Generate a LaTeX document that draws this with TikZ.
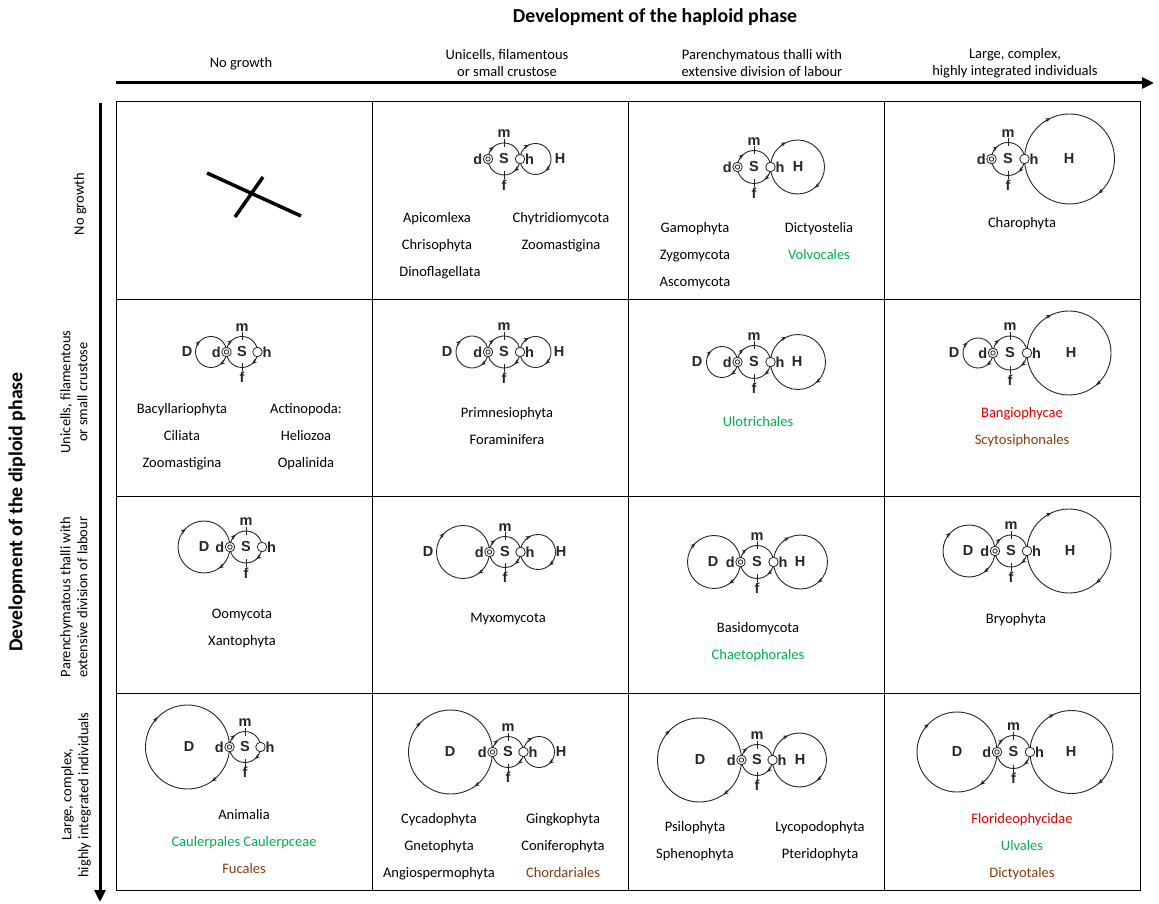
\documentclass[tikz,border=0pt]{standalone}
\usepackage{fontspec}
\setmainfont{Carlito}
\newfontfamily\glyphfont{Liberation Sans}
\usetikzlibrary{arrows.meta}
\definecolor{tgreen}{HTML}{00B050}
\definecolor{tred}{HTML}{E00000}
\definecolor{tbrown}{HTML}{843C0C}
\tikzset{
  cyc/.style={draw=black!85, line width=0.9pt},
  tip/.style={cyc, -{Stealth[length=5pt,width=4pt]}},
  glab/.style={font=\glyphfont\bfseries\fontsize{14.5}{15}\selectfont, inner sep=0pt, text=black!85},
  taxon/.style={font=\fontsize{14.5}{16}\selectfont, inner sep=0pt},
  hdr/.style={font=\fontsize{14.5}{17}\selectfont, align=center, inner sep=0pt},
  ttl/.style={font=\bfseries\fontsize{19.8}{22}\selectfont, inner sep=0pt},
  bull/.style={circle, draw=black!85, line width=0.8pt, fill=white, minimum size=9.5pt, inner sep=0pt,
    path picture={\draw[line width=0.8pt] (path picture bounding box.center) circle[radius=2.2pt];}},
  hcirc/.style={circle, draw=black!85, line width=0.8pt, fill=white, minimum size=9.5pt, inner sep=0pt},
  grid/.style={draw=black, line width=0.9pt},
  axis/.style={line width=3pt, -{Triangle[length=12pt,width=11pt]}},
}
% clockwise arrow tip on a circle: centre x, centre y, radius, angle
\newcommand\cwtip[4]{%
  \draw[tip] ({#1+#3*cos(#4+344/#3)},{#2+#3*sin(#4+344/#3)}) arc[start angle={#4+344/#3}, end angle=#4, radius=#3];}
% S cycle: name, x, y(from top), radius
\newcommand\Scyc[4]{%
  \draw[cyc] (#2,{903-#3}) circle[radius=#4];
  \cwtip{#2}{903-#3}{#4}{130}
  \cwtip{#2}{903-#3}{#4}{-50}
  \draw[cyc] (#2,{903-#3+#4-4}) -- (#2,{903-#3+#4+4});
  \draw[cyc] (#2,{903-#3-#4-4}) -- (#2,{903-#3-#4+4});
  \node[glab] (#1-S) at (#2,{903-#3}) {S};
  \node[glab] (#1-m) at (#2,{903-#3+#4+9}) {m};
  \node[glab] (#1-f) at (#2,{903-#3-#4-10}) {f};
  \node[bull] (#1-d) at ({#2-#4},{903-#3}) {};
  \node[hcirc] (#1-h) at ({#2+#4},{903-#3}) {};
  \node[glab, anchor=east] (#1-dl) at ({#2-#4-5.5},{903-#3}) {d};
  \node[glab, anchor=west] (#1-hl) at ({#2+#4+5},{903-#3}) {h};
}
% H cycle: name, tangent x, y, radius, label x
\newcommand\Hcyc[5]{%
  \draw[cyc] ({#2+#4},{903-#3}) circle[radius=#4];
  \cwtip{#2+#4}{903-#3}{#4}{115}
  \cwtip{#2+#4}{903-#3}{#4}{-50}
  \node[glab] (#1-H) at (#5,{903-#3}) {H};
}
% D cycle: name, tangent x, y, radius, label x
\newcommand\Dcyc[5]{%
  \draw[cyc] ({#2-#4},{903-#3}) circle[radius=#4];
  \cwtip{#2-#4}{903-#3}{#4}{135}
  \cwtip{#2-#4}{903-#3}{#4}{-55}
  \node[glab] (#1-D) at (#5,{903-#3}) {D};
}
% taxon text: name, x, y(center from top), colour, text
\newcommand\tx[5]{\node[taxon, text=#4, anchor=base] (#1) at (#2,{903-#3-4.5}) {#5};}

\begin{document}
\begin{tikzpicture}[x=1pt,y=1pt]
\useasboundingbox (0,0) rectangle (1159,903);
\fill[white] (0,0) rectangle (1159,903);

% titles
\node[ttl] (title) at (655,{903-17}) {Development of the haploid phase};
\node[ttl, rotate=90] (ltitle) at (17,{903-512}) {Development of the diploid phase};

% axes
\coordinate (ha0) at (116,{903-83});
\coordinate (ha1) at (1154,{903-83});
\draw[axis] (ha0) -- (ha1);
\coordinate (va0) at (100,{903-103});
\coordinate (va1) at (100,{903-902});
\draw[axis] (va0) -- (va1);

% column headers
\node[hdr] (h1) at (241,{903-64}) {No growth};
\node[hdr] (h2) at (507,{903-63.5}) {Unicells, filamentous\\or small crustose};
\node[hdr] (h3) at (762,{903-63.5}) {Parenchymatous thalli with\\extensive division of labour};
\node[hdr] (h4) at (1015,{903-63.5}) {Large, complex,\\highly integrated individuals};

% row headers
\node[hdr, rotate=90] (v1) at (80,{903-204}) {No growth};
\node[hdr, rotate=90] (v2) at (74,{903-392}) {Unicells, filamentous\\or small crustose};
\node[hdr, rotate=90] (v3) at (74,{903-597}) {Parenchymatous thalli with\\extensive division of labour};
\node[hdr, rotate=90] (v4) at (76,{903-795}) {Large, complex,\\highly integrated individuals};

% grid
\draw[grid] (116,{903-101}) rectangle (1140,{903-890});
\foreach \gx in {372,628,884} \draw[grid] (\gx,{903-101}) -- (\gx,{903-890});
\foreach \gy in {299,496,693} \draw[grid] (116,{903-\gy}) -- (1140,{903-\gy});

% cell r1c1: cross
\coordinate (x1a) at (207,{903-173}); \coordinate (x1b) at (301,{903-216});
\coordinate (x2a) at (263,{903-177}); \coordinate (x2b) at (235,{903-217});
\draw[line width=3.5pt] (x1a) -- (x1b);
\draw[line width=3.5pt] (x2a) -- (x2b);

% r1c2
\Hcyc{a12}{520}{159}{15.5}{560}
\Scyc{a12}{504}{159}{16}
\tx{t1}{437}{218}{black}{Apicomlexa}
\tx{t2}{437}{245}{black}{Chrisophyta}
\tx{t3}{440}{272}{black}{Dinoflagellata}
\tx{t4}{561}{218}{black}{Chytridiomycota}
\tx{t5}{561}{245}{black}{Zoomastigina}

% r1c3
\Hcyc{a13}{770.5}{167}{27}{798}
\Scyc{a13}{754}{167}{16.5}
\tx{t6}{695}{228}{black}{Gamophyta}
\tx{t7}{695}{255}{black}{Zygomycota}
\tx{t8}{695}{282}{black}{Ascomycota}
\tx{t9}{819}{228}{black}{Dictyostelia}
\tx{t10}{819}{255}{tgreen}{Volvocales}

% r1c4
\Hcyc{a14}{1024.5}{159}{45}{1069}
\Scyc{a14}{1008}{159}{16.5}
\tx{t11}{1022}{223}{black}{Charophyta}

% r2c1
\Dcyc{a21}{226.5}{352}{15.5}{187}
\Scyc{a21}{242}{352}{15.5}
\tx{t12}{182}{409}{black}{Bacyllariophyta}
\tx{t13}{182}{436}{black}{Ciliata}
\tx{t14}{182}{463}{black}{Zoomastigina}
\tx{t15}{306}{409}{black}{Actinopoda:}
\tx{t16}{306}{436}{black}{Heliozoa}
\tx{t17}{306}{463}{black}{Opalinida}

% r2c2
\Dcyc{a22}{488}{352}{16}{447}
\Hcyc{a22}{520}{352}{15.5}{559}
\Scyc{a22}{504}{352}{16}
\tx{t18}{507}{413}{black}{Primnesiophyta}
\tx{t19}{507}{440}{black}{Foraminifera}

% r2c3
\Dcyc{a23}{737.5}{362}{15.5}{697}
\Hcyc{a23}{770.5}{362}{27.5}{797}
\Scyc{a23}{754}{362}{16.5}
\tx{t20}{758}{422}{tgreen}{Ulotrichales}

% r2c4
\Dcyc{a24}{993}{353}{15}{954}
\Hcyc{a24}{1027}{353}{42}{1071}
\Scyc{a24}{1010}{353}{17}
\tx{t21}{1022}{413}{tred}{Bangiophycae}
\tx{t22}{1022}{440}{tbrown}{Scytosiphonales}

% r3c1
\Dcyc{a31}{230}{547}{26}{204}
\Scyc{a31}{246}{547}{16}
\tx{t23}{242}{614}{black}{Oomycota}
\tx{t24}{242}{641}{black}{Xantophyta}

% r3c2
\Dcyc{a32}{489.5}{552}{26.5}{428}
\Hcyc{a32}{520.5}{552}{17.5}{561}
\Scyc{a32}{505}{552}{15.5}
\tx{t25}{508}{618}{black}{Myxomycota}

% r3c3
\Dcyc{a33}{740.5}{562}{26.5}{713}
\Hcyc{a33}{773.5}{562}{27}{800}
\Scyc{a33}{757}{562}{16.5}
\tx{t26}{758}{628}{black}{Basidomycota}
\tx{t27}{758}{655}{tgreen}{Chaetophorales}

% r3c4
\Dcyc{a34}{995}{551}{26}{968}
\Hcyc{a34}{1027}{551}{42}{1070}
\Scyc{a34}{1011}{551}{16}
\tx{t28}{1016}{619}{black}{Bryophyta}

% r4c1
\Dcyc{a41}{229.5}{747}{42}{189}
\Scyc{a41}{245}{747}{15.5}
\tx{t29}{244}{815}{black}{Animalia}
\tx{t30}{244}{842}{tgreen}{Caulerpales Caulerpceae}
\tx{t31}{244}{869}{tbrown}{Fucales}

% r4c2
\Dcyc{a42}{492.5}{752}{42}{450}
\Hcyc{a42}{523.5}{752}{15.5}{561}
\Scyc{a42}{508}{752}{15.5}
\tx{t32}{439}{819}{black}{Cycadophyta}
\tx{t33}{439}{846}{black}{Gnetophyta}
\tx{t34}{439}{873}{black}{Angiospermophyta}
\tx{t35}{563}{819}{black}{Gingkophyta}
\tx{t36}{563}{846}{black}{Coniferophyta}
\tx{t37}{563}{873}{tbrown}{Chordariales}

% r4c3
\Dcyc{a43}{741.5}{760}{42}{700}
\Hcyc{a43}{772.5}{760}{27}{800}
\Scyc{a43}{757}{760}{15.5}
\tx{t38}{695}{827}{black}{Psilophyta}
\tx{t39}{695}{854}{black}{Sphenophyta}
\tx{t40}{820}{827}{black}{Lycopodophyta}
\tx{t41}{820}{854}{black}{Pteridophyta}

% r4c4
\Dcyc{a44}{997}{752}{40}{957}
\Hcyc{a44}{1030}{752}{41.5}{1071}
\Scyc{a44}{1013.5}{752}{16.5}
\tx{t42}{1022}{819}{tred}{Florideophycidae}
\tx{t43}{1022}{846}{tgreen}{Ulvales}
\tx{t44}{1022}{873}{tbrown}{Dictyotales}
\end{tikzpicture}
\end{document}
